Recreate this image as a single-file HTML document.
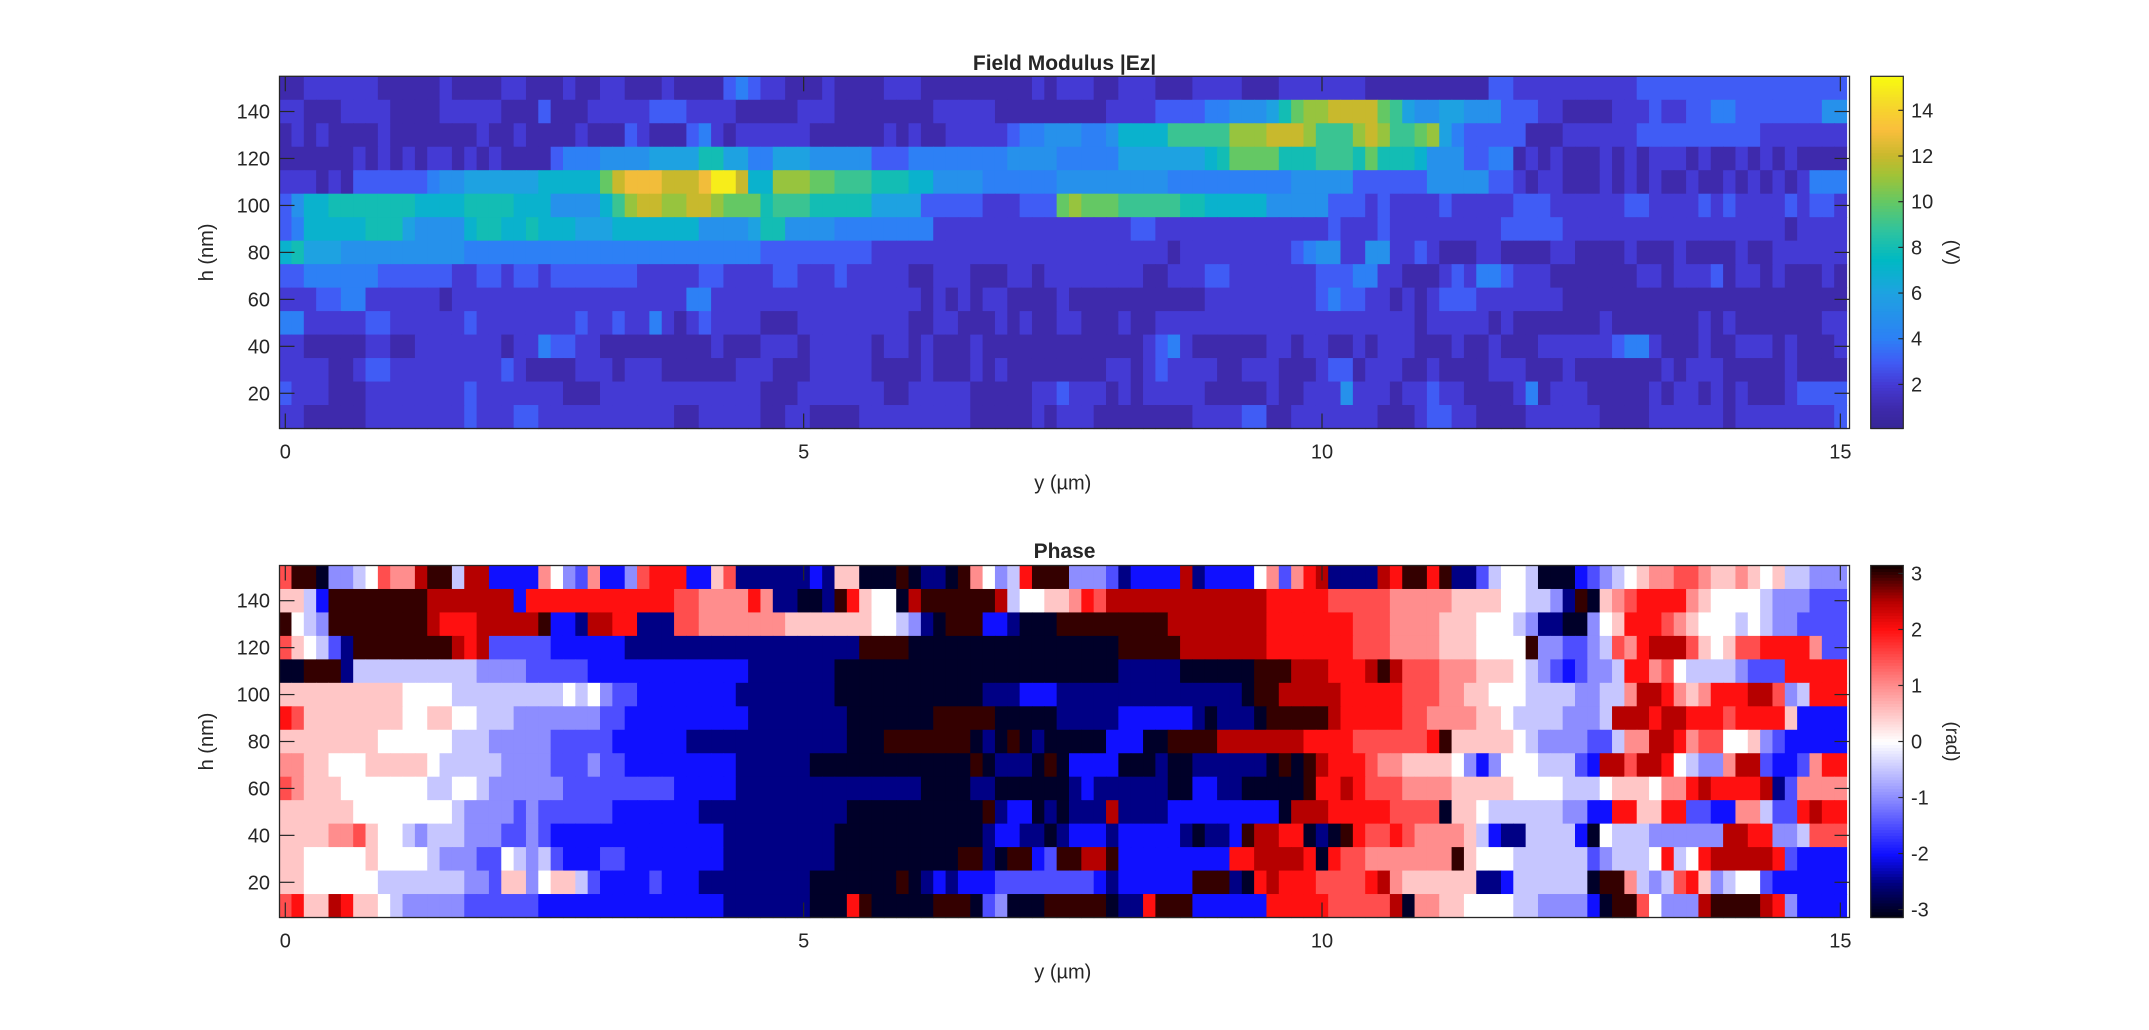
<!DOCTYPE html>
<html><head><meta charset="utf-8"><title>Field Modulus and Phase</title>
<style>
html,body{margin:0;padding:0;background:#fff;}
svg{display:block;font-family:"Liberation Sans",Arial,sans-serif;}
text{fill:#262626;}
</style></head>
<body>
<svg id="fig" width="2149" height="1030" viewBox="0 0 2149 1030" xmlns="http://www.w3.org/2000/svg">
<rect x="0" y="0" width="2149" height="1030" fill="#fff"/>
</svg>
<script>
// ---------- data (one char per cell; left half = columns 0..62, right half = columns 63..126; rows from h=150 down to h=10) ----------
// field modulus |Ez| in volts, hex digit per cell
const fieldRowsLeft = [
"1122222211111211112211121122111211113432211121111222111111111212",
"22"+"111"+"2222"+"1111"+"22222"+"111"+"3"+"111"+"22222"+"333"+"2222"+"11111"+"222"+"111"+"11111"+"22222"+"111111",
"1212111121111111211211112111321113421222222111111212112222234455",
"111111"+"212121221212"+"1111"+"3"+"444"+"5555"+"6666"+"88"+"66"+"44"+"666"+"55555"+"333"+"44444444"+"55555",
"22212"+"1"+"333333"+"455"+"66666"+"677777"+"a"+"c"+"ddd"+"ccc"+"d"+"ff"+"c"+"77"+"bbb"+"aa"+"999"+"88877"+"5555"+"4444444",
"3"+"5"+"77"+"8888888"+"7777"+"8888"+"777"+"5555"+"7"+"9"+"b"+"cc"+"bb"+"cc"+"b"+"aaa"+"8"+"999"+"88888"+"6666"+"333332223333",
"3"+"4"+"77"+"777"+"888"+"6"+"5555"+"7"+"88"+"77"+"8"+"777"+"666"+"77"+"77777"+"5555"+"6"+"88"+"5555"+"44444444"+"22222222222",
"7"+"8"+"666"+"5555555555"+"444444444444444444444444"+"333333333"+"2222222222222222",
"3344444433333322332332333333322222332222332223222221122211122121",
"2223344222222122222222222222222224422222222222222222121212211111",
"4422222332222223222222223223224212322221112222222221122111212111",
"2211111221122222221224332211111111121112221222221221211121111111",
"2222112332222222223211112221222111111222111222221111211121211111",
"3222111222222223222222211122222222222221112222222112222211111222",
"2211111222222223222332222222222211222221122111122222222211111211"
];
const fieldRowsRight = [
"222"+"11"+"222"+"111"+"2222"+"111"+"222"+"2222"+"1111111111"+"33"+"2222222222"+"3333333333333333"+"3",
"1111"+"2222"+"3333"+"44"+"555"+"6"+"8"+"a"+"bb"+"cccc"+"a"+"9"+"6"+"55"+"66"+"555"+"333"+"22"+"1111"+"22232233"+"44"+"3333333"+"55",
"55"+"44"+"5"+"7777"+"99999"+"bbb"+"ccc"+"b"+"999"+"b"+"c"+"b"+"99"+"a"+"b"+"6"+"4"+"33333"+"111"+"222222"+"3333333333"+"2222222",
"44444"+"6666666"+"7"+"8"+"aaaa"+"888"+"999"+"8"+"a"+"888"+"7"+"555"+"33"+"44"+"12121112121"+"222"+"12112121211"+"11",
"555555555"+"4444444444"+"55555"+"333333"+"55555"+"33"+"212211121212112112121212"+"444",
"a"+"b"+"aaa"+"99999"+"88"+"77777"+"555"+"55"+"333232222322222333222222332222323222232332",
"2222223322222222222222322232222222223333322222222222222222212222",
"2222222221222222222345522552232111221111221111211121111211222222",
"2222222112223322222223334422111232443222111111122122231221211121",
"2111111111112222222223433221212333222222211111111111111111111111",
"2211121122222222222222222222212222212111111121111111212111111122",
"1111111234211111122122112122211121121112222223442111211222121112",
"1111221232222112221112331222112111122211121111111212221111121111",
"3222121222221111121122252221223221111241222111112122121211123333",
"2221111111122223311222222211123322111122222211112222221222222223"
];
// phase in rad: a=-3 b=-2.5 c=-2 d=-1.5 e=-1 f=-0.5 g=0 h=0.5 i=1 j=1.5 k=2 l=2.5 m=3
const phaseRowsLeft = [
"jmmae"+"efgji"+"ilmmf"+"llccc"+"ciged"+"iccej"+"kkkcc"+"hjbbb"+"bbbcb"+"hhaaa"+"mabba"+"migef"+"kmm",
"hhfc"+"mmmmmmmm"+"lllllll"+"c"+"kk"+"kkkkkkkkkk"+"jj"+"iiii"+"k"+"i"+"bbaab"+"m"+"k"+"h"+"g"+"g"+"a"+"l"+"mmmmm"+"m"+"l"+"fgg"+"h",
"mgfe"+"mmmmmmmm"+"l"+"kkk"+"ll"+"lll"+"m"+"cc"+"b"+"ll"+"kk"+"bbb"+"jj"+"iiiiiii"+"hhhhh"+"hhgg"+"f"+"e"+"b"+"a"+"mm"+"m"+"cc"+"b"+"aaa",
"jhgfdbm"+"mmmmmm"+"m"+"l"+"k"+"l"+"ddddd"+"cccccc"+"bbbbbb"+"bbbbbbbbbbbbb"+"mmmm"+"aaaaaaaaaaaa",
"aammmb"+"ff"+"ffffff"+"ff"+"ee"+"ee"+"dd"+"ddd"+"ccc"+"ccccc"+"ccccc"+"bbbbbbb"+"aaaaaaaaaaaaaaaaaa",
"hhhhhhhhhh"+"gg"+"gg"+"fff"+"ffffff"+"g"+"f"+"g"+"e"+"d"+"d"+"ccc"+"ccccc"+"bbbbbbbb"+"aaaaaaaa"+"aaaa"+"bbb"+"ccc",
"kjh"+"hhhhhh"+"hgg"+"hh"+"gg"+"fff"+"eeeeeee"+"dd"+"cc"+"c"+"ccccccc"+"bbbbbbbb"+"aaaaaaa"+"mmmmm"+"aaaaa",
"hh"+"hhhhhh"+"g"+"ggggg"+"fff"+"e"+"eeeeddd"+"dd"+"ccc"+"ccc"+"bbbbbbbbbbbbb"+"aaa"+"mm"+"mmm"+"mm"+"a"+"b"+"a"+"m"+"a"+"b"+"a",
"ii"+"hh"+"ggg"+"hhhhh"+"g"+"fff"+"ff"+"e"+"eee"+"d"+"dd"+"e"+"dd"+"cc"+"ccccccc"+"bbbbbb"+"aaaaaaaaa"+"aaaa"+"m"+"a"+"bbb"+"a"+"m",
"jihhhg"+"ggggg"+"g"+"ff"+"gg"+"f"+"e"+"eeeee"+"ddddd"+"dddd"+"cc"+"ccc"+"bbbbbbbb"+"bbbbbbb"+"aaaa"+"bb"+"aaaaa",
"hhhhhh"+"gg"+"ggggg"+"g"+"f"+"ee"+"ee"+"d"+"e"+"d"+"d"+"d"+"dd"+"d"+"c"+"cc"+"cccc"+"bbbbbbb"+"bbbbb"+"aaaaaaaaaaa"+"m"+"b"+"c"+"c"+"a"+"b",
"hhhhi"+"ij"+"h"+"gg"+"f"+"e"+"fff"+"e"+"ee"+"dd"+"e"+"d"+"ccc"+"cc"+"cccc"+"cccc"+"c"+"bbbbbbbbb"+"aaaaaaaaaa"+"aa"+"b"+"cc"+"bb"+"a",
"hhggggg"+"h"+"g"+"ggg"+"f"+"e"+"ee"+"dd"+"g"+"f"+"e"+"f"+"d"+"c"+"cc"+"dd"+"cccc"+"cccc"+"bbbbbbbbb"+"aaaaaaaaaa"+"mm"+"b"+"a"+"mm"+"c"+"d",
"hhgggggg"+"ff"+"fffff"+"ee"+"d"+"hh"+"e"+"g"+"hh"+"f"+"d"+"c"+"cc"+"c"+"d"+"c"+"cc"+"bbb"+"bbbbbb"+"aaaaaaa"+"m"+"a"+"b"+"c"+"b"+"c"+"cc"+"ddd"+"dd",
"jkhhlkhh"+"g"+"f"+"eee"+"ee"+"dd"+"dddd"+"cccc"+"cccc"+"ccccccc"+"bbbbbbb"+"aaa"+"k"+"m"+"aaaa"+"a"+"mmm"+"a"+"d"+"e"+"a"+"aa"+"m"
];
const phaseRowsRight = [
"m"+"eee"+"d"+"b"+"cccc"+"l"+"b"+"cccc"+"g"+"i"+"d"+"i"+"k"+"l"+"bbbb"+"l"+"k"+"mm"+"k"+"m"+"bb"+"d"+"f"+"gg"+"f"+"aaa"+"c"+"d"+"e"+"f"+"g"+"h"+"ii"+"jj"+"i"+"hh"+"i"+"h"+"g"+"h"+"ff"+"eee",
"h"+"i"+"k"+"j"+"l"+"lllll"+"lllllll"+"kkkkk"+"jjjjj"+"iiiii"+"hhh"+"hg"+"g"+"f"+"f"+"e"+"b"+"m"+"a"+"h"+"i"+"j"+"kkk"+"k"+"i"+"h"+"gg"+"gg"+"f"+"ee"+"ed"+"dd",
"mmmmm"+"mmmml"+"lllllll"+"kkkkk"+"kkj"+"jjiiii"+"hhh"+"ggg"+"f"+"e"+"bb"+"aa"+"e"+"g"+"h"+"kkk"+"j"+"i"+"h"+"gg"+"gf"+"g"+"f"+"ee"+"dddd",
"aaaaa"+"mmmmm"+"lllllll"+"kkkkk"+"kkj"+"jjiiii"+"hhh"+"ggg"+"g"+"m"+"ee"+"dd"+"e"+"f"+"j"+"i"+"k"+"lll"+"j"+"h"+"g"+"h"+"j"+"j"+"kk"+"kk"+"i"+"dd",
"aaaaa"+"bbbbb"+"aaaaaa"+"m"+"mm"+"lll"+"kkk"+"l"+"m"+"l"+"jjj"+"iii"+"hhh"+"g"+"f"+"e"+"d"+"c"+"d"+"ee"+"f"+"kk"+"i"+"j"+"g"+"ffff"+"e"+"d"+"dd"+"kkkkk",
"bbbbb"+"bbbb"+"bbbbbb"+"a"+"m"+"m"+"lll"+"llk"+"kkkk"+"jjj"+"iihh"+"gg"+"g"+"ff"+"ff"+"ee"+"ff"+"i"+"ll"+"k"+"i"+"h"+"i"+"k"+"kk"+"ll"+"j"+"e"+"f"+"kkk",
"bbbbb"+"cccccc"+"b"+"a"+"bbb"+"a"+"m"+"mmmm"+"l"+"k"+"kkkk"+"jj"+"iiii"+"hh"+"g"+"ffff"+"eee"+"f"+"lll"+"k"+"l"+"lkk"+"k"+"j"+"k"+"kk"+"k"+"h"+"cccc",
"aaaa"+"ccc"+"aa"+"mm"+"m"+"m"+"lll"+"llll"+"k"+"kkk"+"jjjjjj"+"k"+"m"+"hhh"+"hh"+"g"+"f"+"e"+"ee"+"e"+"d"+"d"+"f"+"i"+"i"+"l"+"l"+"k"+"i"+"jj"+"g"+"g"+"h"+"e"+"d"+"ccccc",
"a"+"cccc"+"aaa"+"b"+"aa"+"bb"+"bbbb"+"a"+"m"+"a"+"m"+"l"+"k"+"kk"+"j"+"ii"+"hhhh"+"g"+"e"+"c"+"e"+"ggg"+"fff"+"d"+"c"+"l"+"l"+"j"+"l"+"l"+"k"+"g"+"f"+"e"+"e"+"i"+"l"+"l"+"d"+"cc"+"d"+"i"+"kk",
"a"+"b"+"c"+"bbbb"+"bbaa"+"cc"+"bbaaaaa"+"m"+"kk"+"l"+"k"+"jjjiii"+"i"+"hhhhh"+"gggg"+"ff"+"f"+"g"+"h"+"h"+"h"+"g"+"ii"+"k"+"l"+"k"+"kk"+"k"+"l"+"b"+"d"+"iiii",
"a"+"bbb"+"l"+"bbbb"+"ccccccccc"+"a"+"ll"+"lk"+"kkkk"+"jjj"+"j"+"a"+"h"+"h"+"g"+"ffffff"+"e"+"e"+"c"+"c"+"k"+"k"+"h"+"h"+"kk"+"d"+"d"+"cc"+"i"+"i"+"f"+"dd"+"k"+"l"+"kk",
"b"+"ccc"+"b"+"ccccc"+"b"+"a"+"bb"+"c"+"m"+"ll"+"k"+"k"+"a"+"b"+"a"+"m"+"k"+"jj"+"k"+"j"+"ii"+"ii"+"h"+"f"+"c"+"bb"+"fff"+"f"+"c"+"a"+"g"+"ff"+"f"+"ee"+"e"+"ee"+"e"+"l"+"l"+"k"+"k"+"ee"+"f"+"jjj",
"mm"+"ll"+"m"+"cccc"+"ccccc"+"kk"+"l"+"lll"+"k"+"a"+"k"+"jj"+"iiiiiii"+"m"+"h"+"ggg"+"ffffff"+"d"+"e"+"f"+"ff"+"g"+"k"+"f"+"g"+"k"+"l"+"ll"+"ll"+"k"+"d"+"cccc",
"d"+"dd"+"c"+"b"+"cccccc"+"m"+"mm"+"b"+"a"+"k"+"l"+"k"+"kk"+"j"+"jjj"+"k"+"l"+"i"+"hhhhhh"+"b"+"b"+"c"+"ffffff"+"a"+"m"+"m"+"i"+"f"+"e"+"f"+"j"+"k"+"h"+"e"+"f"+"g"+"g"+"d"+"cccccc",
"m"+"mmm"+"a"+"bb"+"k"+"mmm"+"cc"+"cccc"+"kkkk"+"k"+"jjjjj"+"l"+"a"+"ii"+"h"+"h"+"g"+"ggg"+"ffeee"+"e"+"c"+"a"+"m"+"m"+"j"+"g"+"eee"+"l"+"mmmm"+"l"+"k"+"e"+"ccc"
];
const rowHeights = [150,140,130,120,110,100,90,80,70,60,50,40,30,20,10];
const xTicks = [0,5,10,15];
const yTicks = [20,40,60,80,100,120,140];
const fieldCbTicks = [2,4,6,8,10,12,14];
const phaseCbTicks = [-3,-2,-1,0,1,2,3];
const fieldRange = [0.07,15.49];
const phaseRange = [-Math.PI, Math.PI];
const yMax = 15, nCols = 127, hStep = 10, hTop = 155, hBottom = 5;

// ---------- layout ----------
const NS = "http://www.w3.org/2000/svg";
const svg = document.getElementById('fig');
const AX = {left:279.5, right:1849.5};
const X0 = 285.3, XPX = 103.67;
const panels = [
  {top:76.3, bottom:428.5, name:'field'},
  {top:565.5, bottom:917.5, name:'phase'}
];
const CB = {left:1870.7, right:1903.3};

function el(tag, attrs, parent){
  const e = document.createElementNS(NS, tag);
  for (const k in attrs) e.setAttribute(k, attrs[k]);
  (parent||svg).appendChild(e);
  return e;
}
function xScale(um){ return X0 + um*XPX; }
function yScale(p, nm){ return p.top + (hTop-nm)*(p.bottom-p.top)/(hTop-hBottom); }
function fit(s,n){ while(s.length<n) s+=s[s.length-1]; return s.slice(0,n); }
function lerpStops(stops, t){
  t=Math.max(0,Math.min(1,t));
  for(let i=1;i<stops.length;i++){
    if(t<=stops[i][0]){
      const a=stops[i-1], b=stops[i], u=(t-a[0])/(b[0]-a[0]||1);
      return 'rgb('+[1,2,3].map(j=>Math.round(a[j]+(b[j]-a[j])*u)).join(',')+')';
    }
  }
  const l=stops[stops.length-1]; return 'rgb('+l[1]+','+l[2]+','+l[3]+')';
}
const parula = [[0,55,38,150],[0.06,62,42,172],[0.125,68,58,212],[0.19,64,92,245],[0.255,45,128,245],[0.385,30,162,225],[0.48,0,185,195],[0.56,45,195,160],[0.644,100,200,100],[0.72,160,195,55],[0.774,200,185,45],[0.85,250,190,60],[0.93,245,220,40],[1,249,251,14]];
const redblue = [[0,0,0,15],[0.1,0,0,130],[0.18,15,15,255],[0.34,140,140,255],[0.5,255,255,255],[0.66,255,140,140],[0.82,255,15,15],[0.9,180,0,0],[1,15,0,0]];
function fieldColor(v){ return lerpStops(parula,(v-fieldRange[0])/(fieldRange[1]-fieldRange[0])); }
function phaseColor(v){ return lerpStops(redblue,(v-phaseRange[0])/(phaseRange[1]-phaseRange[0])); }

const fieldValues = rowHeights.map((h,i)=>[...(fit(fieldRowsLeft[i],63)+fit(fieldRowsRight[i],64))].map(c=>parseInt(c,16)));
const phaseValues = rowHeights.map((h,i)=>[...(fit(phaseRowsLeft[i],63)+fit(phaseRowsRight[i],64))].map(c=>(c.charCodeAt(0)-103)*0.5));

const colStep = yMax/(nCols-1);
function drawHeatmap(p, values, colorFn, label){
  const g = el('g',{});
  
  
  values.forEach((row,r)=>{
    const h = rowHeights[r];
    const y1 = yScale(p, h+hStep/2), y2 = yScale(p, h-hStep/2);
    row.forEach((v,c)=>{
      const um = c*colStep;
      let x1 = xScale(um-colStep/2), x2 = xScale(um+colStep/2);
      x1 = Math.max(x1, AX.left); x2 = Math.min(x2, AX.right);
      const rc = el('rect',{x:x1.toFixed(2), y:y1.toFixed(2), width:(x2-x1+0.6).toFixed(2), height:(y2-y1+0.6).toFixed(2), fill:colorFn(v)}, g);
      
      
    });
  });
}
function drawAxes(p, label){
  const g = el('g',{});
  
  
  const box = el('rect',{x:AX.left, y:p.top, width:AX.right-AX.left, height:p.bottom-p.top, fill:'none', stroke:'#262626', 'stroke-width':1.3}, g);
  
  
  xTicks.forEach(t=>{
    const x = xScale(t);
    el('line',{x1:x,x2:x,y1:p.bottom,y2:p.bottom-15,stroke:'#262626','stroke-width':1.2},g);
    el('line',{x1:x,x2:x,y1:p.top,y2:p.top+15,stroke:'#262626','stroke-width':1.2},g);
    const tx = el('text',{x:x, y:p.bottom+30, 'font-size':20, 'text-anchor':'middle'}, g);
    tx.textContent = t;
    
    
  });
  yTicks.forEach(t=>{
    const y = yScale(p,t);
    el('line',{x1:AX.left,x2:AX.left+15,y1:y,y2:y,stroke:'#262626','stroke-width':1.2},g);
    el('line',{x1:AX.right,x2:AX.right-15,y1:y,y2:y,stroke:'#262626','stroke-width':1.2},g);
    const ty = el('text',{x:270, y:y+7, 'font-size':20, 'text-anchor':'end'}, g);
    ty.textContent = t;
    
    
  });
  const xl = el('text',{x:(xScale(0)+xScale(15))/2, y:p.bottom+61, 'font-size':20, 'text-anchor':'middle'}, g);
  xl.textContent = 'y (\u00B5m)';
  
  
  const cy = (p.top+p.bottom)/2;
  const yl = el('text',{x:0, y:0, 'font-size':20, 'text-anchor':'middle', transform:'translate(213,'+cy+') rotate(-90)'}, g);
  yl.textContent = 'h (nm)';
  
  
}
function drawColorbar(p, range, ticks, colorFn, unit, label){
  const g = el('g',{});
  
  
  const n = 120, H = p.bottom-p.top;
  for(let i=0;i<n;i++){
    const v = range[0] + (i+0.5)/n*(range[1]-range[0]);
    const y = p.bottom - (i+1)/n*H;
    el('rect',{x:CB.left, y:y.toFixed(2), width:CB.right-CB.left, height:(H/n+0.6).toFixed(2), fill:colorFn(v)}, g);
  }
  el('rect',{x:CB.left, y:p.top, width:CB.right-CB.left, height:H, fill:'none', stroke:'#262626','stroke-width':1.2}, g);
  ticks.forEach(t=>{
    const y = p.bottom - (t-range[0])/(range[1]-range[0])*H;
    el('line',{x1:CB.right,x2:CB.right-5,y1:y,y2:y,stroke:'#262626','stroke-width':1.2},g);
    const tl = el('text',{x:1911, y:y+7, 'font-size':20}, g);
    tl.textContent = t;
    
    
  });
  const cy = (p.top+p.bottom)/2;
  const ul = el('text',{x:0,y:0,'font-size':19,'text-anchor':'middle',transform:'translate(1946,'+cy+') rotate(90)'}, g);
  ul.textContent = unit;
  
  
}

drawHeatmap(panels[0], fieldValues, fieldColor, 'field');
drawHeatmap(panels[1], phaseValues, phaseColor, 'phase');
drawAxes(panels[0], 'field');
drawAxes(panels[1], 'phase');
drawColorbar(panels[0], fieldRange, fieldCbTicks, fieldColor, '(V)', 'field');
drawColorbar(panels[1], phaseRange, phaseCbTicks, phaseColor, '(rad)', 'phase');

const t1 = el('text',{x:1064.5, y:70, 'font-size':21, 'font-weight':'bold', 'text-anchor':'middle'});
t1.textContent = 'Field Modulus |Ez|';


const t2 = el('text',{x:1064.5, y:558, 'font-size':21, 'font-weight':'bold', 'text-anchor':'middle'});
t2.textContent = 'Phase';


</script>
</body></html>
